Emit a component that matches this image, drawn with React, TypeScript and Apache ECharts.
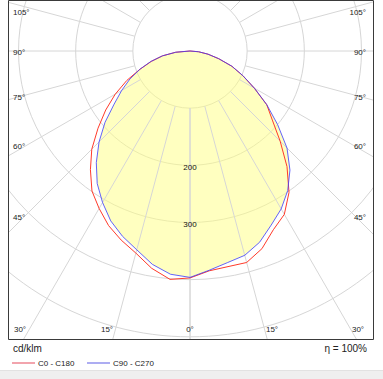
import React, { useEffect, useRef } from "react";
import * as echarts from "echarts";

// gamma angles (0 = straight down)
const GAMMA = [0, 5, 10, 15, 20, 25, 30, 35, 40, 45, 50, 55, 60, 65, 70, 75, 80, 85, 90];
// C0 - C180 plane (red): right half C0, left half C180 (cd/klm)
const C0 = [397, 386, 383, 383, 368, 345, 330, 302, 264, 223, 188, 164, 130, 102, 78, 52, 32, 15, 0];
const C180 = [398, 401, 386, 366, 352, 337, 318, 299, 271, 243, 210, 180, 151, 122, 93, 70, 49, 25, 0];
// C90 - C270 plane (blue): right half C90, left half C270
const C90 = [396, 385, 376, 370, 356, 336, 319, 298, 272, 240, 200, 164, 130, 102, 78, 52, 32, 15, 0];
const C270 = [396, 392, 379, 360, 345, 328, 306, 283, 255, 225, 194, 162, 138, 116, 93, 71, 49, 25, 0];

const RAY_ANGLES = [0, 15, 30, 45, 60, 75, 90, 105, 120, 135, 150, 165, 180];
const RADIUS_LABELS = [200, 300];
const SIDE_LABELS = ["105°", "90°", "75°", "60°", "45°"];
const SIDE_LABEL_Y = [12, 52, 97, 146, 217];
const BOTTOM_LABELS = ["30°", "15°", "0°", "15°", "30°"];
const BOTTOM_LABEL_X = [20, 107, 190, 272, 358];
const LEGEND = ["C0 - C180", "C90 - C270"];

function curve(right: number[], left: number[]) {
  const pts: number[][] = [];
  for (let i = GAMMA.length - 1; i >= 0; i--) pts.push([right[i], 360 - GAMMA[i]]);
  for (let i = 1; i < GAMMA.length; i++) pts.push([left[i], GAMMA[i]]);
  return pts;
}

export default function App() {
  const ref = useRef<HTMLDivElement>(null);
  useEffect(() => {
    if (!ref.current) return;
    const chart = echarts.init(ref.current, undefined, { renderer: "svg" });
    const font = "Liberation Sans, Arial, sans-serif";
    const txt = "#222";
    const rays: any[] = [];
    RAY_ANGLES.forEach((g) => {
      [g, 360 - g].forEach((a) => {
        rays.push({
          type: "line",
          coordinateSystem: "polar",
          data: [[100, a], [600, a]],
          symbol: "none",
          silent: true,
          lineStyle: { color: "#d6d6d6", width: 1 },
        });
      });
    });
    const red = curve(C0, C180);
    const blue = curve(C90, C270);
    const graphics: any[] = [
      { type: "rect", z: 100, shape: { x: 0, y: 0, width: 383, height: 1 }, style: { fill: "#fff" } },
      { type: "rect", z: 100, shape: { x: 0, y: 0, width: 8, height: 379 }, style: { fill: "#fff" } },
      { type: "rect", z: 100, shape: { x: 374, y: 0, width: 9, height: 379 }, style: { fill: "#fff" } },
      { type: "rect", z: 100, shape: { x: 0, y: 340, width: 383, height: 39 }, style: { fill: "#fff" } },
      { type: "rect", z: 101, shape: { x: 0, y: 371, width: 383, height: 8 }, style: { fill: "#efefef" } },
      { type: "line", z: 101, shape: { x1: 0, y1: 370.5, x2: 383, y2: 370.5 }, style: { stroke: "#e2e2e2", lineWidth: 1 } },
      { type: "rect", z: 102, shape: { x: 8.5, y: 0.5, width: 365, height: 339 }, style: { fill: "none", stroke: "#3a3a3a", lineWidth: 1 } },
    ];
    SIDE_LABELS.forEach((t, i) => {
      graphics.push({ type: "text", z: 103, x: 13, y: SIDE_LABEL_Y[i], style: { text: t, fontSize: 8, fontFamily: font, fill: txt, align: "left", verticalAlign: "middle" } });
      graphics.push({ type: "text", z: 103, x: 366, y: SIDE_LABEL_Y[i], style: { text: t, fontSize: 8, fontFamily: font, fill: txt, align: "right", verticalAlign: "middle" } });
    });
    BOTTOM_LABELS.forEach((t, i) => {
      graphics.push({ type: "text", z: 103, x: BOTTOM_LABEL_X[i], y: 329, style: { text: t, fontSize: 8, fontFamily: font, fill: txt, align: "center", verticalAlign: "middle" } });
    });
    graphics.push({ type: "text", z: 103, x: 13, y: 348, style: { text: "cd/klm", fontSize: 10, fontFamily: font, fill: txt, align: "left", verticalAlign: "middle" } });
    graphics.push({ type: "text", z: 103, x: 367, y: 348, style: { text: "η = 100%", fontSize: 10, fontFamily: font, fill: txt, align: "right", verticalAlign: "middle" } });
    graphics.push({ type: "line", z: 103, shape: { x1: 12, y1: 363, x2: 35, y2: 363 }, style: { stroke: "#f2a4ad", lineWidth: 2 } });
    graphics.push({ type: "text", z: 103, x: 38, y: 363, style: { text: LEGEND[0], fontSize: 8, fontFamily: font, fill: txt, align: "left", verticalAlign: "middle" } });
    graphics.push({ type: "line", z: 103, shape: { x1: 87, y1: 363, x2: 110, y2: 363 }, style: { stroke: "#adadf2", lineWidth: 2 } });
    graphics.push({ type: "text", z: 103, x: 113, y: 363, style: { text: LEGEND[1], fontSize: 8, fontFamily: font, fill: txt, align: "left", verticalAlign: "middle" } });

    chart.setOption({
      animation: false,
      polar: { center: [190, 51], radius: 343 },
      angleAxis: {
        type: "value",
        min: 0,
        max: 360,
        startAngle: 270,
        clockwise: true,
        axisLine: { show: false },
        axisTick: { show: false },
        axisLabel: { show: false },
        splitLine: { show: false },
      },
      radiusAxis: {
        type: "value",
        min: 0,
        max: 600,
        interval: 100,
        axisLine: { show: false },
        axisTick: { show: false },
        axisLabel: { show: false },
        splitLine: { show: true, lineStyle: { color: "#d6d6d6", width: 1 } },
      },
      series: [
        ...rays,
        {
          type: "line",
          coordinateSystem: "polar",
          data: blue,
          symbol: "none",
          silent: true,
          lineStyle: { width: 0, opacity: 0 },
          areaStyle: { color: "rgba(255,255,130,0.5)", opacity: 1 },
        },
        {
          type: "line",
          coordinateSystem: "polar",
          data: red,
          symbol: "none",
          lineStyle: { color: "#ff3a2a", width: 1 },
        },
        {
          type: "line",
          coordinateSystem: "polar",
          data: blue,
          symbol: "none",
          lineStyle: { color: "#3c3cff", width: 1, opacity: 0.8 },
        },
        {
          type: "scatter",
          coordinateSystem: "polar",
          data: RADIUS_LABELS.map((r) => [r, 0]),
          symbolSize: 0,
          silent: true,
          z: 10,
          label: {
            show: true,
            position: "inside",
            offset: [0, 2],
            formatter: (p: any) => String(p.value[0]),
            fontSize: 8,
            fontFamily: font,
            color: "#111",
            textBorderWidth: 0,
            textBorderColor: "transparent",
            opacity: 1,
          },
        },
      ],
      graphic: { elements: graphics },
    });
    return () => chart.dispose();
  }, []);
  return <div ref={ref} style={{ position: "absolute", left: 0, top: 0, width: 383, height: 379, background: "#fff" }} />;
}
